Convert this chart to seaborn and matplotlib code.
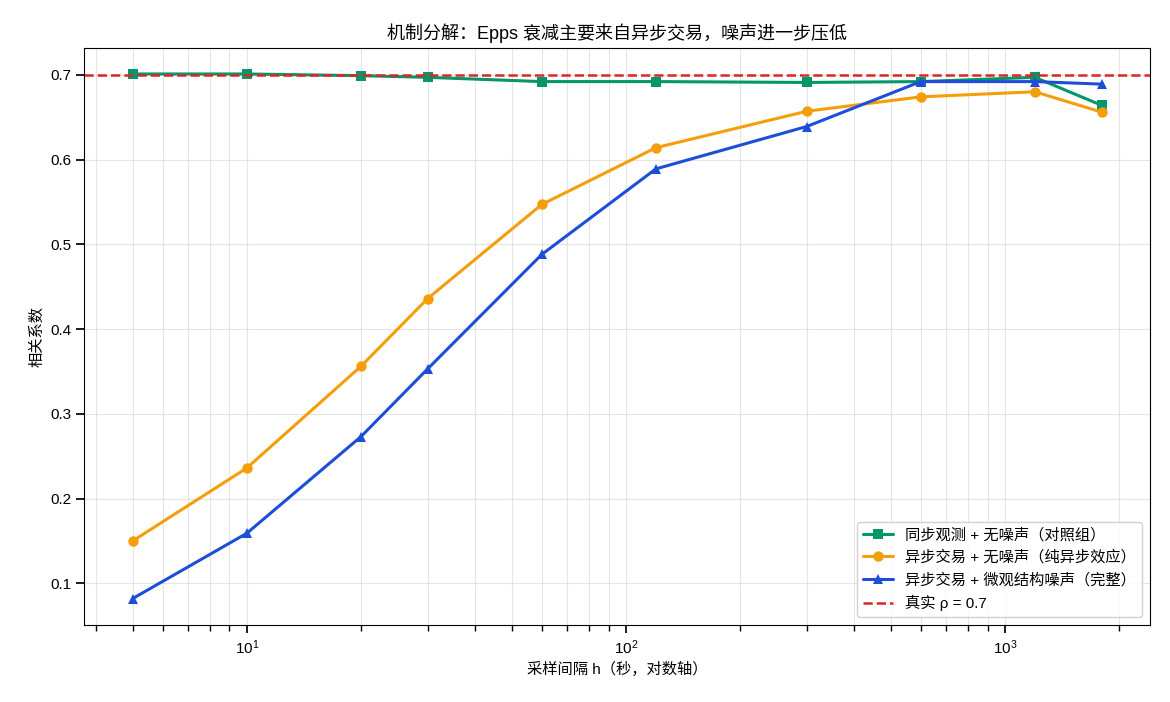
"""Epps effect decomposition: correlation vs sampling interval."""

import matplotlib
matplotlib.use("Agg")
import matplotlib.pyplot as plt
import pandas as pd
import seaborn as sns

INTERVALS = [5, 10, 20, 30, 60, 120, 300, 600, 1200, 1800]
SYNC_NO_NOISE = [0.701, 0.701, 0.699, 0.697, 0.692, 0.692, 0.691, 0.692, 0.697, 0.664]
ASYNC_NO_NOISE = [0.150, 0.236, 0.356, 0.436, 0.547, 0.614, 0.657, 0.674, 0.680, 0.656]
ASYNC_NOISE = [0.082, 0.159, 0.273, 0.353, 0.488, 0.589, 0.639, 0.692, 0.692, 0.689]
TRUE_RHO = 0.7

SERIES = [
    ("同步观测 + 无噪声（对照组）", SYNC_NO_NOISE, "#059669", "s"),
    ("异步交易 + 无噪声（纯异步效应）", ASYNC_NO_NOISE, "#f59e0b", "o"),
    ("异步交易 + 微观结构噪声（完整）", ASYNC_NOISE, "#1d4ed8", "^"),
]


def main() -> None:
    sns.set_theme(style="ticks")
    plt.rcParams["font.family"] = ["Liberation Sans", "Noto Sans CJK SC", "DejaVu Sans"]
    plt.rcParams["axes.unicode_minus"] = False
    for key in ("text.color", "axes.labelcolor", "xtick.color", "ytick.color"):
        plt.rcParams[key] = "black"

    frames = []
    for label, values, _, _ in SERIES:
        frames.append(pd.DataFrame({"h": INTERVALS, "rho": values, "series": label}))
    df = pd.concat(frames, ignore_index=True)

    fig, ax = plt.subplots(figsize=(11.7, 7.02), dpi=100)
    sns.lineplot(
        data=df,
        x="h",
        y="rho",
        hue="series",
        style="series",
        palette={label: color for label, _, color, _ in SERIES},
        markers={label: marker for label, _, _, marker in SERIES},
        dashes=False,
        linewidth=2.2,
        markersize=7.5,
        markeredgewidth=0,
        ax=ax,
    )
    ax.axhline(TRUE_RHO, color="#dc2626", linestyle="--", linewidth=1.8, label=f"真实 ρ = {TRUE_RHO}")
    ax.set_xscale("log")
    ax.grid(True, which="both", color="#cccccc", alpha=0.5, linewidth=0.8)
    for spine in ax.spines.values():
        spine.set_visible(True)
        spine.set_color("black")
        spine.set_linewidth(0.8)
    ax.tick_params(which="both", direction="out", color="black", labelcolor="black", labelsize=11)

    ax.set_title("机制分解：Epps 衰减主要来自异步交易，噪声进一步压低", fontsize=13, color="black")
    ax.set_xlabel("采样间隔 h（秒，对数轴）", fontsize=11, color="black")
    ax.set_ylabel("相关系数", fontsize=11, color="black")
    handles, labels = ax.get_legend_handles_labels()
    ax.legend(handles, labels, loc="lower right", fontsize=11, framealpha=0.9)

    fig.subplots_adjust(left=0.072, right=0.983, top=0.932, bottom=0.11)
    fig.savefig("out.png", dpi=100)
    plt.close(fig)


if __name__ == "__main__":
    main()
